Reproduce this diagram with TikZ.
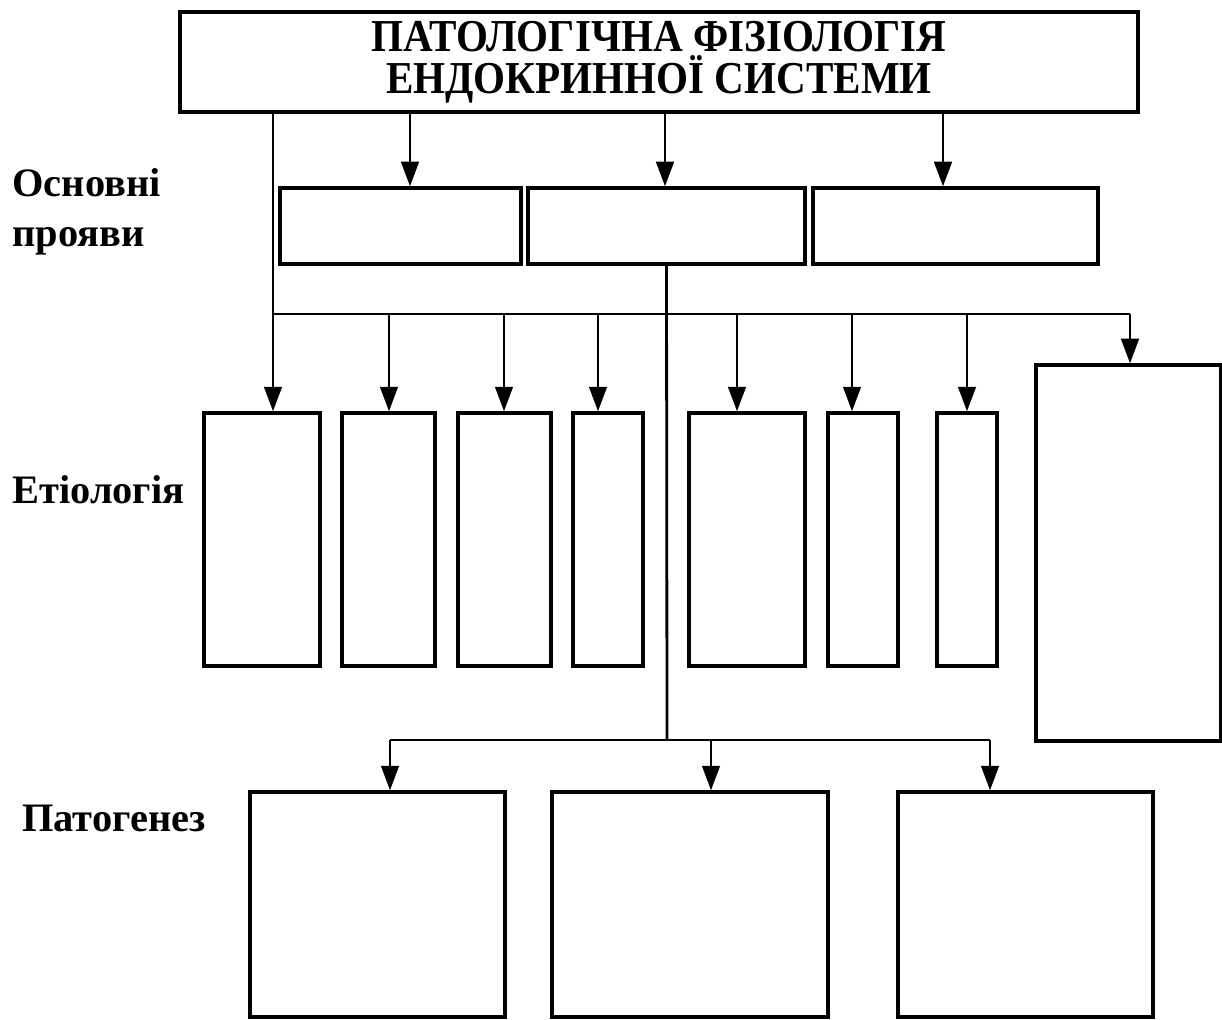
\documentclass[tikz,border=0pt]{standalone}
\usepackage{fontspec}
\setmainfont{Liberation Serif}
\newfontfamily\titlefont[FakeStretch=0.9]{Liberation Serif}
\usetikzlibrary{arrows.meta}

\tikzset{
  blk/.style 2 args={draw, line width=1.9pt, rectangle, inner sep=0pt,
    minimum width=#1*0.02cm, minimum height=#2*0.02cm},
  conn/.style={line width=1.6pt},
  arr/.style={conn, -{Triangle[length=14pt, width=10pt]}},
  lbl/.style={anchor=west, align=left, inner sep=0pt,
    font=\bfseries\fontsize{23}{28.5}\selectfont},
}

\begin{document}
\begin{tikzpicture}[x=0.02cm, y=-0.02cm]
\useasboundingbox (0,0) rectangle (1222,1019);

% title
\node[blk={958}{100}, font=\titlefont\bfseries\fontsize{26}{24}\selectfont, align=center]
  (title) at (659,62) {ПАТОЛОГІЧНА ФІЗІОЛОГІЯ\\ЕНДОКРИННОЇ СИСТЕМИ};

% row labels
\node[lbl] (lMan) at (12,212) {Основні\\прояви};
\node[lbl] (lEti) at (12,490) {Етіологія};
\node[lbl] (lPat) at (22,818) {Патогенез};

% main manifestations
\node[blk={241}{76}] (pA) at (400.5,226) {};
\node[blk={277}{76}] (pB) at (666.5,226) {};
\node[blk={285}{76}] (pC) at (955.5,226) {};

% etiology
\node[blk={116}{253}] (e1) at (262,539.5) {};
\node[blk={93}{253}]  (e2) at (388.5,539.5) {};
\node[blk={93}{253}]  (e3) at (504.5,539.5) {};
\node[blk={70}{253}]  (e4) at (608,539.5) {};
\node[blk={116}{253}] (e5) at (747,539.5) {};
\node[blk={70}{253}]  (e6) at (863,539.5) {};
\node[blk={60}{253}]  (e7) at (967,539.5) {};
\node[blk={185}{376}] (e8) at (1128.5,553) {};

% pathogenesis
\node[blk={255}{225}] (g1) at (377.5,904.5) {};
\node[blk={276}{225}] (g2) at (690,904.5) {};
\node[blk={255}{225}] (g3) at (1025.5,904.5) {};

% title -> manifestations
\foreach \n/\x in {pA/410, pB/665, pC/943} {
  \coordinate (t\n) at (\x,112);
  \draw[arr] (t\n |- title.south) -- (t\n |- \n.north);
}

% bus to etiology
\coordinate (busL) at (273,314);
\coordinate (busR) at (1130,314);
\draw[conn] (busL |- title.south) -- (busL) -- (busR);
\draw[arr] (busL) -- (busL |- e1.north);
\foreach \n/\x in {e2/389, e3/504, e4/598, e5/737, e6/852, e7/967} {
  \coordinate (d\n) at (\x,314);
  \draw[arr] (d\n) -- (d\n |- \n.north);
}
\draw[arr] (busR) -- (busR |- e8.north);

% bus to pathogenesis
\coordinate (busP) at (667,740);
\coordinate (pL) at (390,740);
\coordinate (pR) at (990,740);
\draw[conn] (pB.south) -- (busP);
\draw[conn] (pL) -- (pR);
\draw[arr] (pL) -- (pL |- g1.north);
\coordinate (pM) at (711,740);
\draw[arr] (pM) -- (pM |- g2.north);
\draw[arr] (pR) -- (pR |- g3.north);

\end{tikzpicture}
\end{document}
